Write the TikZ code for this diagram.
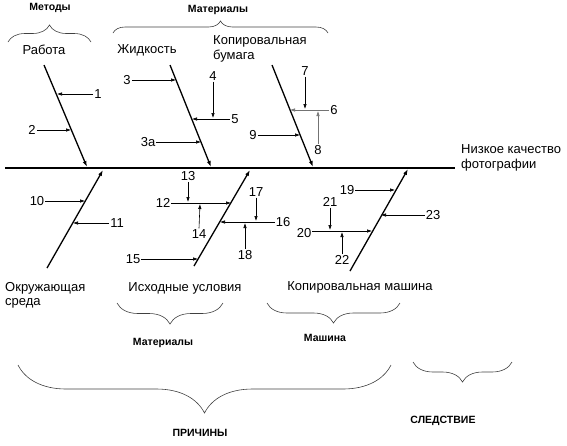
\documentclass[tikz,border=0pt]{standalone}
\usepackage{fontspec}
\setmainfont{Liberation Sans}
\usetikzlibrary{arrows.meta, decorations.pathreplacing}

\begin{document}
\begin{tikzpicture}[x=1pt, y=-1pt,
    lbl/.style={inner sep=1pt, font=\fontsize{13}{14.5}\selectfont},
    grp/.style={inner sep=1pt, font=\fontsize{10.5}{12}\selectfont\bfseries},
    bone/.style={line width=1.3pt, -{Latex[length=6pt, width=4pt]}},
    arr/.style={line width=0.6pt, -{Latex[length=5pt, width=3.5pt]}},
    brc/.style={decorate, black!75, line width=0.6pt, decoration={brace, amplitude=#1}}]
    \useasboundingbox (0,0) rectangle (567,445);

    % Spine
    \coordinate (sp0) at (5,168);
    \coordinate (sp1) at (455,168);
    \draw[line width=2.4pt] (sp0) -- (sp1);
    \node[lbl, anchor=west, align=left] (eff) at (460,158) {Низкое качество\\фотографии};

    % Bones
    \coordinate (b1s) at (44,65);   \coordinate (b1e) at (87,167);
    \coordinate (b2s) at (170,65);  \coordinate (b2e) at (211,167);
    \coordinate (b3s) at (272,65);  \coordinate (b3e) at (313,167);
    \coordinate (b4s) at (47,268);  \coordinate (b4e) at (103,170);
    \coordinate (b5s) at (194,266); \coordinate (b5e) at (250,170);
    \coordinate (b6s) at (350,271); \coordinate (b6e) at (408,169);
    \foreach \b in {1,...,6}
        \draw[bone] (b\b s) -- (b\b e);

    % Cause groups
    \node[lbl] (work) at (44,50) {Работа};
    \node[lbl] (liq) at (147,50) {Жидкость};
    \node[lbl, anchor=west, align=left] (paper) at (212,49) {Копировальная\\бумага};
    \node[lbl, anchor=west, align=left] (env) at (4,295.5) {Окружающая\\среда};
    \node[lbl] (init) at (185,288) {Исходные условия};
    \node[lbl] (mach) at (360,287) {Копировальная машина};

    % Work
    \node[lbl] (n1) at (98,94) {1};
    \node[lbl] (n2) at (32,130) {2};
    \coordinate (t1) at (57,94);
    \coordinate (t2) at (71,130);
    \draw[arr] (n1.west) -- (t1);
    \draw[arr] (n2.east) -- (t2);

    % Liquid
    \node[lbl] (n3) at (127,80) {3};
    \node[lbl] (n4) at (213,76) {4};
    \node[lbl] (n5) at (235,119) {5};
    \node[lbl] (n3a) at (148,142) {3а};
    \coordinate (t3) at (176,80);
    \coordinate (t5) at (192,119);
    \coordinate (t4) at (213,118);
    \coordinate (t3a) at (201,142);
    \draw[arr] (n3.east) -- (t3);
    \draw[arr] (n5.west) -- (t5);
    \draw[arr] (n4.south) -- (t4);
    \draw[arr] (n3a.east) -- (t3a);

    % Paper
    \node[lbl] (n6) at (334,110) {6};
    \node[lbl] (n7) at (305,71) {7};
    \node[lbl] (n8) at (318,150) {8};
    \node[lbl] (n9) at (253,135) {9};
    \coordinate (t6) at (290,110);
    \coordinate (t7) at (305,109);
    \coordinate (t8) at (318,111);
    \coordinate (t9) at (300,135);
    \draw[arr, black!55] (n6.west) -- (t6);
    \draw[arr] (n7.south) -- (t7);
    \draw[arr, black!55] (n8.north) -- (t8);
    \draw[arr] (n9.east) -- (t9);

    % Environment
    \node[lbl] (n10) at (37,201) {10};
    \node[lbl] (n11) at (117,223) {11};
    \coordinate (t10) at (85,201);
    \coordinate (t11) at (73,223);
    \draw[arr] (n10.east) -- (t10);
    \draw[arr] (n11.west) -- (t11);

    % Initial conditions
    \node[lbl] (n12) at (163,203) {12};
    \node[lbl] (n13) at (188,176) {13};
    \node[lbl] (n14) at (199,234) {14};
    \node[lbl] (n15) at (133,259) {15};
    \node[lbl] (n16) at (283,222) {16};
    \node[lbl] (n17) at (256,192) {17};
    \node[lbl] (n18) at (245,255) {18};
    \coordinate (t12) at (231,203);
    \coordinate (t13) at (188,202);
    \coordinate (t14) at (200,204);
    \coordinate (t15) at (198,259);
    \coordinate (t16) at (220,222);
    \coordinate (t17) at (256,221);
    \coordinate (t18) at (245,223);
    \draw[arr] (n12.east) -- (t12);
    \draw[arr] (n13.south) -- (t13);
    \draw[arr] (n14.north) -- (t14);
    \draw[arr] (n15.east) -- (t15);
    \draw[arr] (n16.west) -- (t16);
    \draw[arr] (n17.south) -- (t17);
    \draw[arr] (n18.north) -- (t18);

    % Machine
    \node[lbl] (n19) at (347,190) {19};
    \node[lbl] (n20) at (304,233) {20};
    \node[lbl] (n21) at (330,202) {21};
    \node[lbl] (n22) at (342,260) {22};
    \node[lbl] (n23) at (433,215) {23};
    \coordinate (t19) at (395,190);
    \coordinate (t20) at (372,231);
    \coordinate (t21) at (330,230);
    \coordinate (t22) at (342,232);
    \coordinate (t23) at (381,215);
    \draw[arr] (n19.east) -- (t19);
    \draw[arr] (n20.east |- t20) -- (t20);
    \draw[arr] (n21.south) -- (t21);
    \draw[arr] (n22.north) -- (t22);
    \draw[arr] (n23.west) -- (t23);

    % Braces
    \draw[brc=17pt] (8,42) -- (91,42);
    \node[grp] (g1) at (50,8) {Методы};
    \draw[brc=12pt] (113,33) -- (328,33);
    \node[grp] (g2) at (218,10) {Материалы};
    \draw[brc=21pt] (223,303) -- (117,303);
    \node[grp] (g3) at (163,343) {Материалы};
    \draw[brc=20pt] (400,303) -- (267,303);
    \node[grp] (g4) at (325,338) {Машина};
    \draw[brc=48pt] (391,365) -- (18,365);
    \node[grp] (g5) at (200,433) {ПРИЧИНЫ};
    \draw[brc=20pt] (512,362) -- (413,362);
    \node[grp] (g6) at (443,421) {СЛЕДСТВИЕ};
\end{tikzpicture}
\end{document}
